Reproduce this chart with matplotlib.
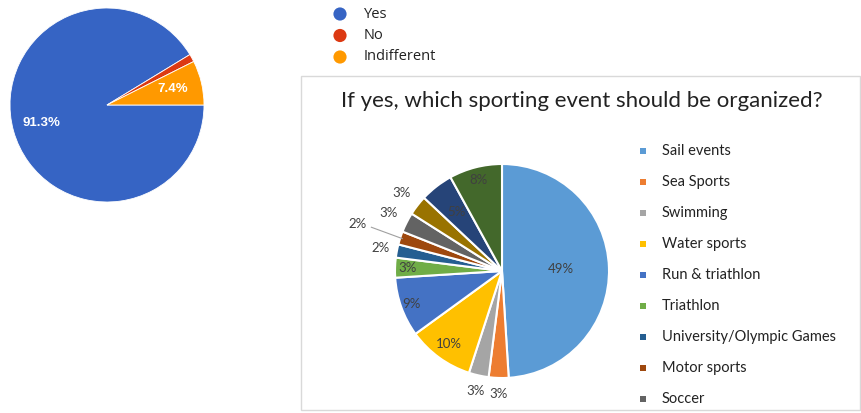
import numpy as np
import matplotlib.pyplot as plt
from matplotlib.patches import Rectangle

# left pie (Google Forms style)
ans_labels = ["Yes", "No", "Indifferent"]
ans_values = [91.3, 1.3, 7.4]
ans_colors = ["#3664c4", "#dc3912", "#ff9900"]

# right pie (Excel style)
title = "If yes, which sporting event should be organized?"
events = ["Sail events", "Sea Sports", "Swimming", "Water sports", "Run & triathlon",
          "Triathlon", "University/Olympic Games", "Motor sports", "Soccer",
          "Other 1", "Other 2", "Other 3"]
event_pct = [49, 3, 3, 10, 9, 3, 2, 2, 3, 3, 5, 8]
event_colors = ["#5b9bd5", "#ed7d31", "#a5a5a5", "#ffc000", "#4472c4", "#70ad47",
                "#255e91", "#9e480e", "#636363", "#997300", "#264478", "#43682b"]
# label distance from centre (in radii) for each slice
label_r = [0.55, 1.15, 1.15, 0.84, 0.9, 0.88, 1.16, 1.42, 1.19, 1.19, 0.7, 0.88]
shown_in_legend = 9  # the rest of the legend falls below the picture

W, H = 861, 413
fig = plt.figure(figsize=(W / 100, H / 100), dpi=100)


def px_axes(x0, y0, w, h):
    return fig.add_axes([x0 / W, 1 - (y0 + h) / H, w / W, h / H])


# ---- left pie
ax1 = px_axes(10, 8, 194, 194)
wedges, _ = ax1.pie(ans_values, colors=ans_colors, startangle=0, counterclock=False,
                    wedgeprops=dict(edgecolor="white", linewidth=0.6))
for w, v in zip(wedges, ans_values):
    if v < 5:
        continue
    a = np.deg2rad((w.theta1 + w.theta2) / 2)
    ax1.text(0.7 * np.cos(a), 0.7 * np.sin(a), f"{v}%", color="white",
             fontsize=9.5, fontweight="bold", family="Liberation Sans",
             ha="center", va="center")
ax1.set_xlim(-1, 1)
ax1.set_ylim(-1, 1)
ax1.axis("off")

# left legend
axl = px_axes(325, 0, 150, 70)
axl.set_xlim(0, 150)
axl.set_ylim(70, 0)
axl.axis("off")
for i, (lab, c) in enumerate(zip(ans_labels, ans_colors)):
    y = 14 + 21.5 * i
    axl.scatter(15, y, s=90, color=c, edgecolors="none")
    axl.text(39, y, lab, fontsize=10.5, family="Open Sans", color="#222222", va="center")

# ---- right chart box
fig.add_artist(Rectangle((301 / W, 1 - 410 / H), 559 / W, 334 / H, transform=fig.transFigure,
                         facecolor="none", edgecolor="#d9d9d9", linewidth=1))
fig.text(582 / W, 1 - 101 / H, title, fontsize=16, family="Lato", color="#222222",
         ha="center", va="center")

ax2 = px_axes(395, 164, 214, 214)
wedges, _ = ax2.pie(event_pct, colors=event_colors, startangle=90, counterclock=False,
                    wedgeprops=dict(edgecolor="white", linewidth=1.5))
for w, v, r in zip(wedges, event_pct, label_r):
    a = np.deg2rad((w.theta1 + w.theta2) / 2)
    x, y = r * np.cos(a), r * np.sin(a)
    ax2.text(x, y, f"{v}%", fontsize=9.5, family="Lato", color="#404040",
             ha="center", va="center", clip_on=False)
    if r > 1.3:
        ax2.plot([x + 0.13, 0.98 * np.cos(a)], [y - 0.03, 0.98 * np.sin(a)],
                 color="#a0a0a0", linewidth=0.8, clip_on=False)
ax2.set_xlim(-1, 1)
ax2.set_ylim(-1, 1)
ax2.axis("off")

# right legend
axr = px_axes(630, 140, 225, 273)
axr.set_xlim(0, 225)
axr.set_ylim(273, 0)
axr.axis("off")
for i, (lab, c) in enumerate(zip(events[:shown_in_legend], event_colors)):
    y = 11 + 31 * i
    axr.scatter(13, y, s=22, marker="s", color=c, edgecolors="none")
    axr.text(32, y, lab, fontsize=10.5, family="Lato", color="#222222", va="center")

fig.savefig("out.png", dpi=100)
